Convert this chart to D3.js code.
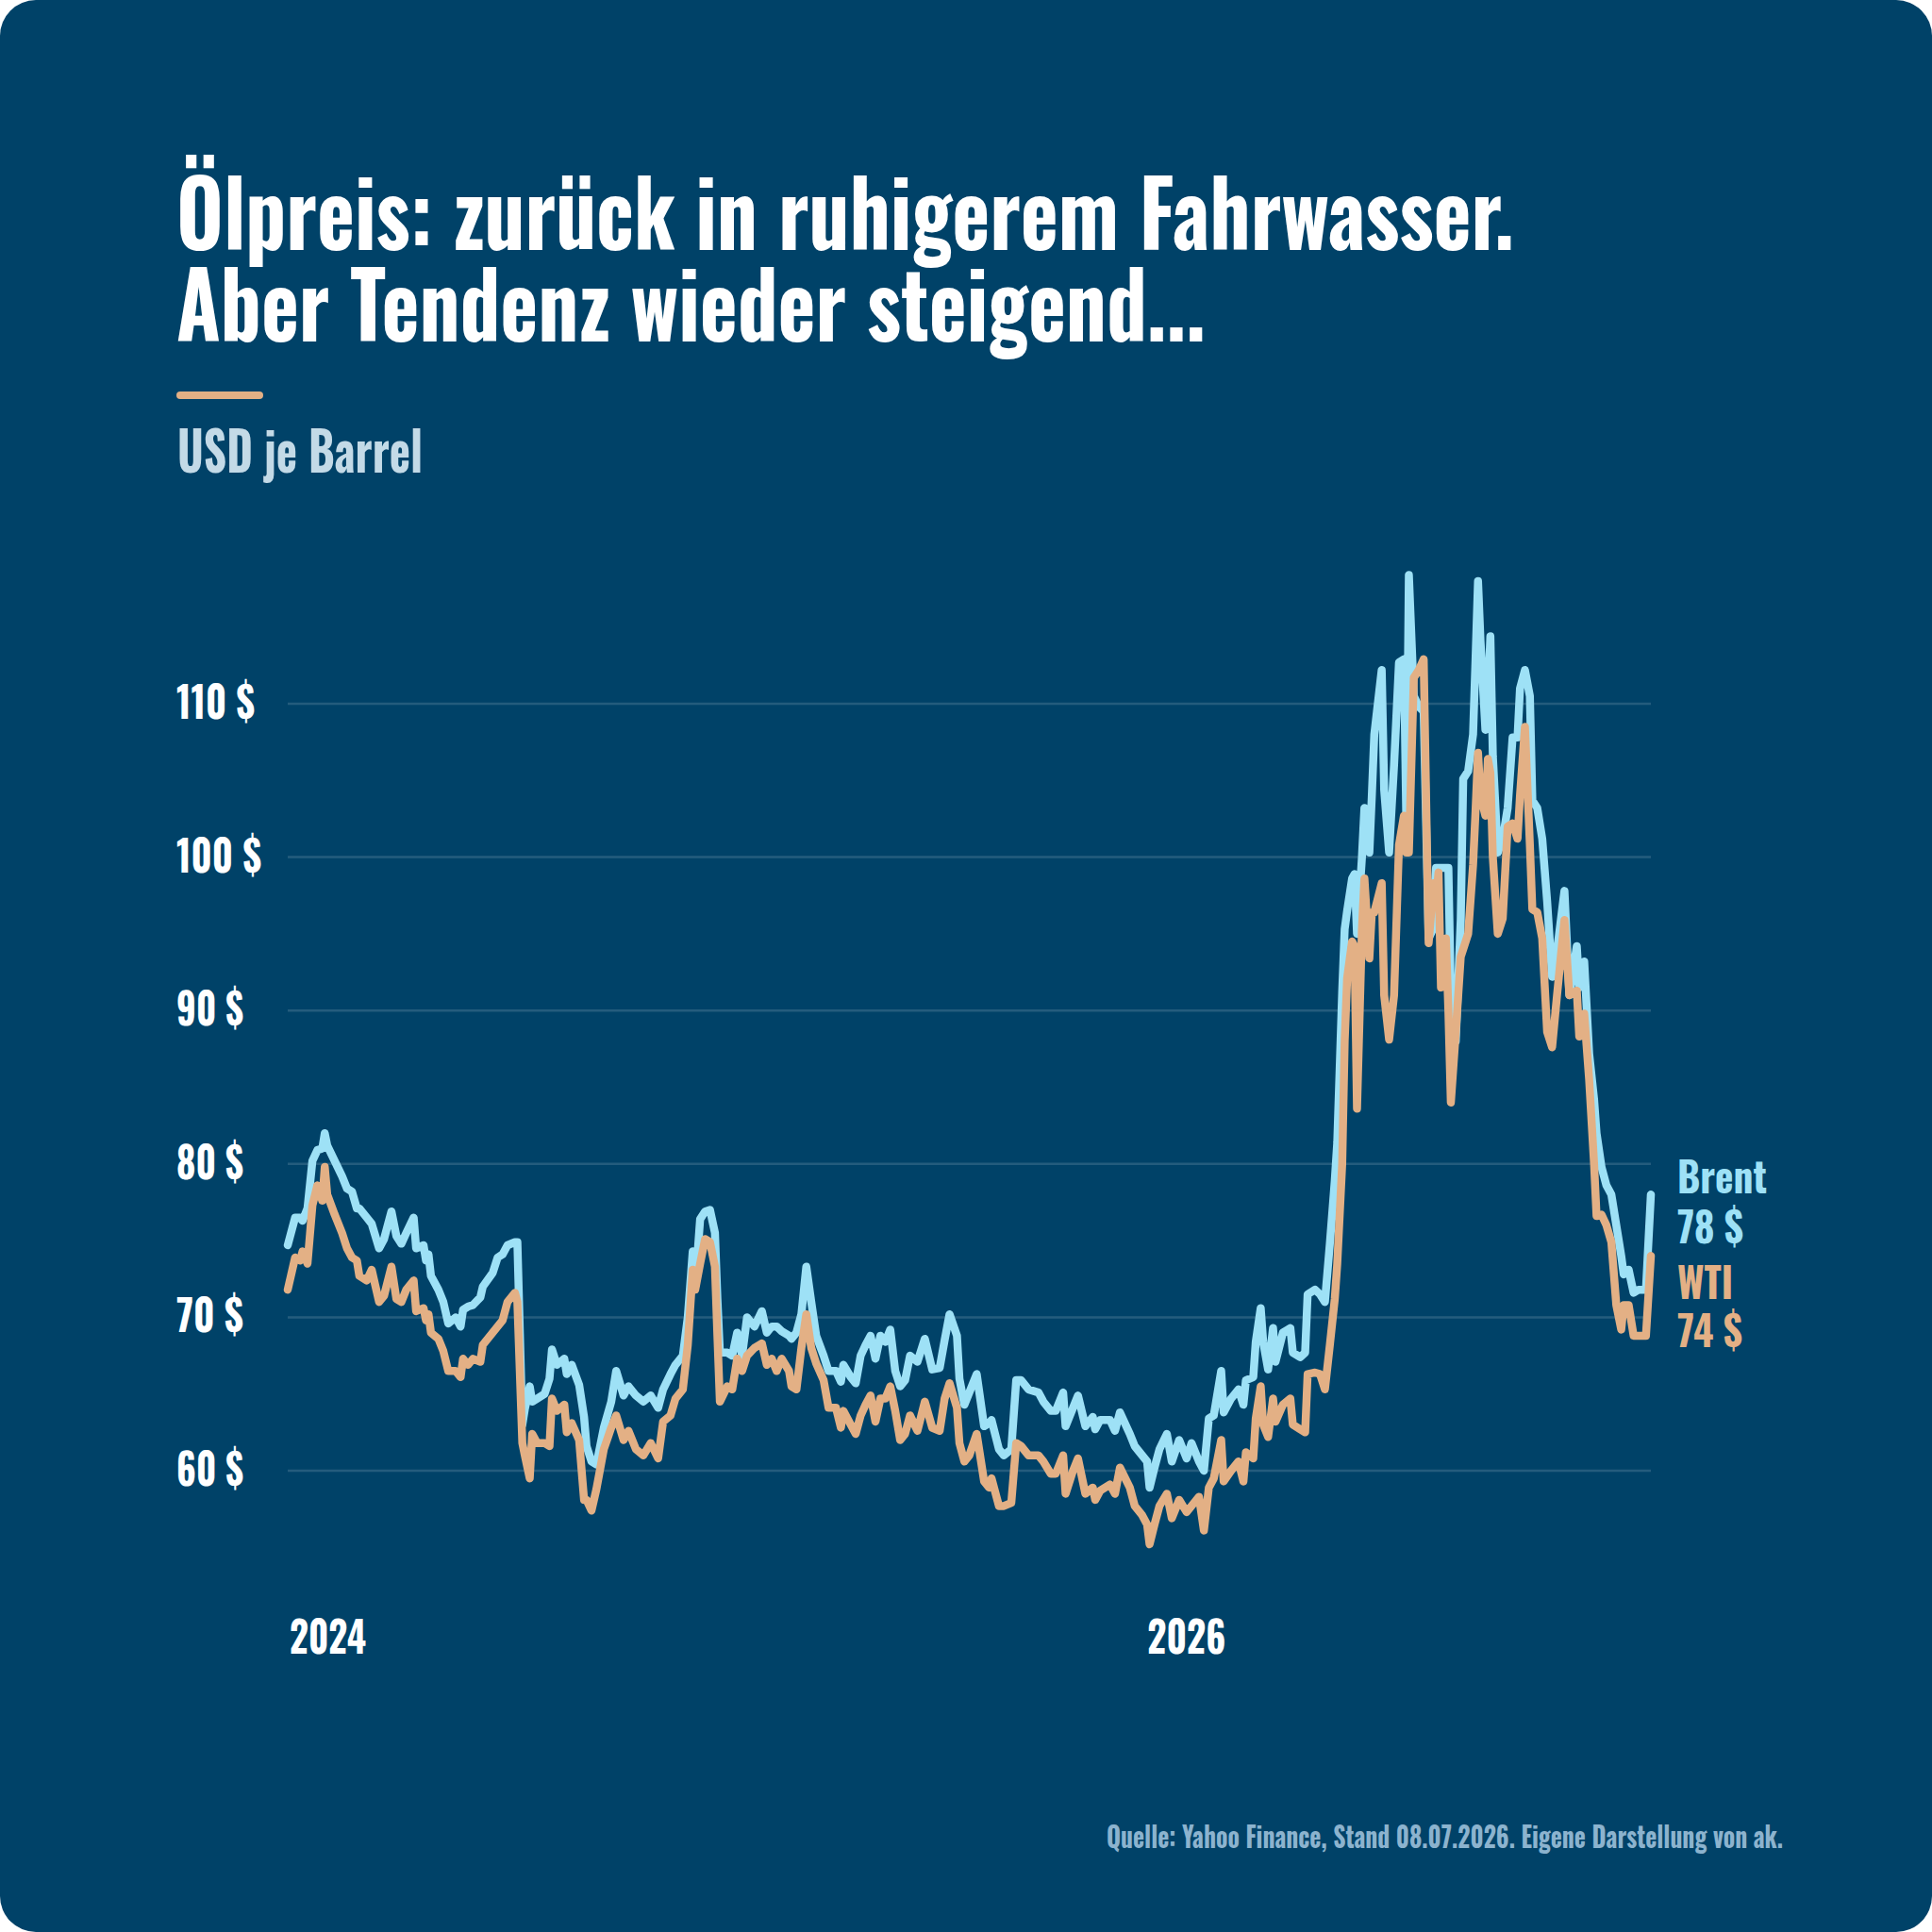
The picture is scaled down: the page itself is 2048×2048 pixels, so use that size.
<!DOCTYPE html>
<html>
<head>
<meta charset="utf-8">
<script src="https://cdn.jsdelivr.net/npm/d3@7"></script>
<style>
  html, body { margin: 0; padding: 0; background: #ffffff; }
  svg { display: block; }
  text { font-family: 'Oswald', 'Liberation Sans Narrow', 'Roboto Condensed', 'Roboto', sans-serif; font-weight: 700; }
</style>
</head>
<body>
<div id="chart"></div>
<script>
// ============================================================
// Ölpreis Brent / WTI — Linienchart
// ============================================================

// Tage seit dem 02.01.2025 (Stand 08.07.2026 = Tag 552)
const days = [
  0, 3, 5, 6, 8, 10, 12, 14, 15, 16, 19, 22, 24, 26, 28, 29, 32, 34, 37, 39,
  42, 44, 46, 48, 51, 52, 55, 56, 57, 58, 61, 63, 65, 68, 70, 71, 73, 75, 78, 79,
  83, 85, 87, 89, 92, 93, 95, 96, 98, 99, 101, 104, 106, 107, 109, 112, 113, 115, 118, 120,
  121, 123, 125, 128, 131, 133, 136, 138, 141, 144, 147, 150, 152, 155, 157, 160, 162, 164, 165, 167,
  169, 171, 173, 174, 175, 178, 180, 182, 184, 186, 189, 192, 194, 196, 198, 200, 203, 204, 206, 208,
  210, 212, 214, 217, 219, 222, 224, 225, 228, 230, 232, 234, 236, 238, 240, 242, 244, 246, 248, 250,
  252, 255, 258, 261, 264, 266, 268, 271, 272, 274, 276, 279, 282, 284, 285, 288, 290, 293, 295, 297,
  300, 304, 306, 309, 311, 314, 315, 318, 320, 323, 326, 327, 329, 333, 335, 337, 341, 343, 346, 348,
  349, 351, 353, 356, 358, 361, 364, 366, 369, 371, 373, 375, 378, 379, 382, 385, 387, 388, 391, 392,
  394, 395, 397, 399, 400, 403, 406, 407, 410, 412, 413, 416, 418, 420, 422, 424, 425, 427, 428, 429,
  431, 432, 433, 435, 436, 438, 439, 440, 443, 444, 446, 448, 450, 452, 453, 454, 456, 458, 460, 462,
  464, 465, 466, 467, 469, 470, 471, 473, 475, 476, 478, 480, 481, 482, 483, 485, 486, 487, 488, 490,
  492, 494, 496, 498, 499, 501, 503, 504, 506, 508, 510, 512, 514, 517, 519, 522, 523, 525, 527, 529,
  530, 532, 534, 536, 538, 540, 541, 543, 545, 547, 549, 550, 552
];

const brent = [
  74.7, 76.5, 76.5, 76.3, 77.1, 80.2, 80.9, 81.0, 82.0, 81.2, 80.2, 79.2, 78.4, 78.2, 77.1, 77.1, 76.5, 76.1, 74.5, 75.1,
  76.9, 75.3, 74.8, 75.5, 76.5, 74.5, 74.7, 73.7, 74.1, 72.7, 71.8, 71.0, 69.6, 70.0, 69.4, 70.5, 70.7, 70.8, 71.3, 72.0,
  72.9, 73.9, 74.1, 74.7, 74.9, 74.9, 63.0, 64.0, 65.5, 64.5, 64.7, 65.0, 66.0, 67.9, 66.9, 67.3, 66.3, 66.9, 65.6, 63.5,
  61.6, 60.6, 60.4, 62.8, 64.5, 66.5, 64.9, 65.5, 64.9, 64.5, 64.9, 64.1, 65.3, 66.3, 66.9, 67.5, 70.0, 74.3, 72.0, 76.4,
  76.9, 77.0, 75.5, 71.2, 67.7, 67.7, 67.5, 69.0, 67.5, 70.0, 69.4, 70.4, 69.0, 69.4, 69.4, 69.1, 68.8, 68.6, 69.0, 70.2,
  73.3, 71.0, 68.8, 67.5, 66.5, 66.5, 65.8, 66.9, 66.1, 65.7, 67.5, 68.2, 68.8, 67.3, 68.8, 68.4, 69.2, 66.5, 65.5, 65.9,
  67.5, 67.1, 68.6, 66.6, 66.7, 68.5, 70.2, 68.8, 66.0, 64.3, 65.1, 66.3, 62.9, 63.1, 63.3, 61.4, 61.0, 61.4, 65.9, 65.9,
  65.3, 65.1, 64.5, 63.9, 63.9, 65.1, 62.9, 64.1, 64.9, 62.9, 63.5, 62.7, 63.3, 63.3, 62.6, 63.8, 62.4, 61.6, 61.0, 60.6,
  58.9, 60.2, 61.4, 62.4, 60.6, 62.0, 60.8, 61.8, 60.6, 60.0, 63.4, 63.6, 66.5, 63.8, 64.7, 65.3, 64.3, 65.9, 66.1, 68.4,
  70.6, 68.4, 66.6, 69.3, 67.1, 69.0, 69.3, 67.7, 67.4, 67.7, 71.5, 71.8, 71.5, 71.0, 74.8, 78.9, 81.4, 91.2, 95.3, 96.5,
  98.6, 98.9, 95.0, 100.0, 103.2, 100.3, 104.0, 108.0, 112.2, 104.4, 100.3, 106.0, 112.7, 112.9, 102.0, 118.4, 110.5, 109.8, 109.5, 94.7,
  95.4, 99.3, 99.3, 99.3, 99.3, 99.3, 91.0, 88.0, 95.9, 105.1, 105.6, 108.0, 112.9, 118.0, 114.1, 108.3, 110.5, 114.4, 106.6, 100.3,
  101.2, 103.2, 107.8, 107.8, 111.0, 112.2, 110.5, 103.7, 103.2, 101.2, 97.1, 92.2, 93.9, 97.8, 91.0, 94.2, 91.5, 93.2, 87.2, 84.2,
  82.0, 79.8, 78.6, 78.0, 76.0, 74.0, 72.8, 73.1, 71.6, 71.8, 71.8, 71.8, 78.0
];

const wti = [
  71.8, 73.9, 73.7, 74.3, 73.5, 77.3, 78.6, 77.6, 79.8, 78.0, 76.7, 75.5, 74.5, 73.9, 73.7, 72.7, 72.4, 73.1, 71.0, 71.4,
  73.3, 71.2, 71.0, 71.8, 72.4, 70.4, 70.6, 69.8, 70.2, 69.0, 68.6, 67.8, 66.5, 66.5, 66.1, 67.3, 66.9, 67.3, 67.1, 68.2,
  69.0, 69.4, 69.8, 71.0, 71.6, 71.0, 61.8, 61.0, 59.5, 62.4, 61.8, 61.8, 61.6, 64.7, 63.9, 64.3, 62.5, 63.1, 62.0, 58.1,
  58.1, 57.4, 58.8, 61.4, 62.8, 63.6, 62.0, 62.6, 61.4, 61.0, 61.8, 60.8, 63.2, 63.6, 64.7, 65.3, 68.2, 73.1, 71.8, 73.5,
  75.1, 74.9, 73.3, 68.8, 64.5, 65.5, 65.3, 67.3, 66.5, 67.5, 68.0, 68.3, 66.9, 67.3, 66.5, 67.3, 66.5, 65.5, 65.3, 68.0,
  70.2, 68.0, 67.0, 65.9, 64.1, 64.1, 62.8, 63.9, 63.0, 62.4, 63.6, 64.3, 64.9, 63.2, 64.7, 64.7, 65.5, 63.9, 62.0, 62.4,
  63.6, 62.6, 64.5, 62.8, 62.6, 64.7, 65.7, 64.1, 61.8, 60.6, 61.0, 62.4, 59.3, 58.9, 59.5, 57.7, 57.7, 57.9, 61.8, 61.6,
  61.0, 61.0, 60.6, 59.8, 59.8, 61.0, 58.5, 60.0, 60.8, 58.5, 58.9, 58.1, 58.7, 59.1, 58.5, 60.2, 58.9, 57.7, 57.1, 56.5,
  55.2, 56.5, 57.7, 58.5, 56.9, 58.1, 57.3, 57.7, 58.3, 56.1, 58.9, 59.5, 62.0, 59.3, 60.0, 60.6, 59.3, 61.2, 60.8, 63.4,
  65.5, 63.0, 62.2, 64.7, 63.2, 64.3, 64.7, 63.0, 62.7, 62.5, 66.3, 66.4, 66.3, 65.3, 68.2, 71.2, 73.5, 80.0, 88.0, 92.1,
  94.5, 94.2, 83.6, 95.3, 98.6, 93.4, 96.4, 96.4, 98.3, 91.0, 88.1, 91.0, 100.8, 102.7, 100.3, 100.3, 111.7, 112.2, 112.9, 94.4,
  98.3, 97.1, 99.0, 91.5, 94.7, 90.0, 84.0, 88.6, 93.5, 94.0, 95.0, 99.5, 103.0, 106.8, 104.0, 102.7, 106.4, 105.5, 100.0, 95.0,
  96.0, 102.0, 102.2, 101.2, 104.0, 108.5, 100.8, 96.6, 96.4, 94.7, 88.6, 87.6, 91.0, 95.9, 91.0, 91.3, 88.3, 89.8, 85.5, 80.0,
  76.6, 76.7, 76.0, 74.9, 70.8, 69.2, 70.8, 70.8, 68.8, 68.8, 68.8, 68.8, 74.0
];

const yTicks = [60, 70, 80, 90, 100, 110];
const yTickWidths = [71, 71, 71, 71, 90, 83];
const xTickDates = ['2025-01-02', '2026-01-01'];
const xTickLabels = ['2024', '2026'];

const W = 2048, H = 2048;
const colors = {
  bg: '#004268',
  grid: 'rgba(255,255,255,0.14)',
  brent: '#9ee1f6',
  wti: '#e3b085',
  white: '#ffffff',
  unit: '#c3dae7',
  source: '#8cb3ce'
};

const parse = d3.timeParse('%Y-%m-%d');
const startDate = parse('2025-01-02');
const endDate = parse('2026-07-08');

const svg = d3.select('#chart').append('svg')
  .attr('width', W)
  .attr('height', H)
  .attr('viewBox', [0, 0, W, H]);

// Karte
svg.append('rect')
  .attr('width', W).attr('height', H)
  .attr('rx', 38).attr('ry', 38)
  .attr('fill', colors.bg);

// Text mit fester Breite (schmale Schrift nachbilden)
function label(x, y, str, size, fill, width, anchor) {
  const t = svg.append('text')
    .attr('x', x).attr('y', y)
    .attr('font-size', size)
    .attr('fill', fill)
    .attr('text-anchor', anchor || 'start')
    .text(str);
  if (width) t.attr('textLength', width).attr('lengthAdjust', 'spacingAndGlyphs');
  return t;
}

// Mehrzeiliger Block: ein <text>, Zeilen als <tspan>
function block(x, lines, size) {
  const t = svg.append('text')
    .attr('x', x)
    .attr('font-size', size);
  lines.forEach(l => {
    t.append('tspan')
      .attr('x', x).attr('y', l.y)
      .attr('fill', l.fill)
      .attr('textLength', l.w)
      .attr('lengthAdjust', 'spacingAndGlyphs')
      .text(l.text);
  });
  return t;
}

// Titel
block(187, [
  { text: 'Ölpreis: zurück in ruhigerem Fahrwasser.', y: 265, w: 1418, fill: colors.white },
  { text: 'Aber Tendenz wieder steigend...', y: 362, w: 1091, fill: colors.white }
], 96);

svg.append('line')
  .attr('x1', 191).attr('x2', 275)
  .attr('y1', 419).attr('y2', 419)
  .attr('stroke', colors.wti)
  .attr('stroke-width', 8)
  .attr('stroke-linecap', 'round');

label(188, 501, 'USD je Barrel', 58, colors.unit, 260);

// Skalen
const x = d3.scaleTime().domain([startDate, endDate]).range([305, 1750]);
const y = d3.scaleLinear().domain([60, 110]).range([1559, 746]);

// Gitterlinien
svg.append('g')
  .selectAll('line')
  .data(yTicks)
  .join('line')
  .attr('x1', x.range()[0]).attr('x2', x.range()[1])
  .attr('y1', d => y(d)).attr('y2', d => y(d))
  .attr('stroke', colors.grid)
  .attr('stroke-width', 2.5);

// Y-Beschriftung
yTicks.forEach((v, i) => {
  label(187, y(v) + 16, v + ' $', 45, colors.white, yTickWidths[i]);
});

// X-Beschriftung
xTickDates.forEach((d, i) => {
  const xp = x(parse(d));
  if (i === 0) label(xp + 2, 1753, xTickLabels[i], 46, colors.white, 81, 'start');
  else label(xp, 1753, xTickLabels[i], 46, colors.white, 83, 'middle');
});

// Linien
const toPoints = vals => vals.map((v, i) => ({ date: d3.timeDay.offset(startDate, days[i]), v }));
const line = d3.line()
  .x(d => x(d.date))
  .y(d => y(d.v));

[[brent, colors.brent], [wti, colors.wti]].forEach(([vals, col]) => {
  svg.append('path')
    .datum(toPoints(vals))
    .attr('fill', 'none')
    .attr('stroke', col)
    .attr('stroke-width', 8.5)
    .attr('stroke-linejoin', 'round')
    .attr('stroke-linecap', 'round')
    .attr('d', line);
});

// Endwerte
const fmt = d3.format('.0f');
block(1778, [
  { text: 'Brent', y: 1265, w: 95, fill: colors.brent },
  { text: fmt(brent[brent.length - 1]) + ' $', y: 1318, w: 70, fill: colors.brent },
  { text: 'WTI', y: 1377, w: 59, fill: colors.wti },
  { text: fmt(wti[wti.length - 1]) + ' $', y: 1428, w: 69, fill: colors.wti }
], 44);

// Quelle
label(1890, 1959, 'Quelle: Yahoo Finance, Stand 08.07.2026. Eigene Darstellung von ak.', 31, colors.source, 717, 'end');
</script>
</body>
</html>
